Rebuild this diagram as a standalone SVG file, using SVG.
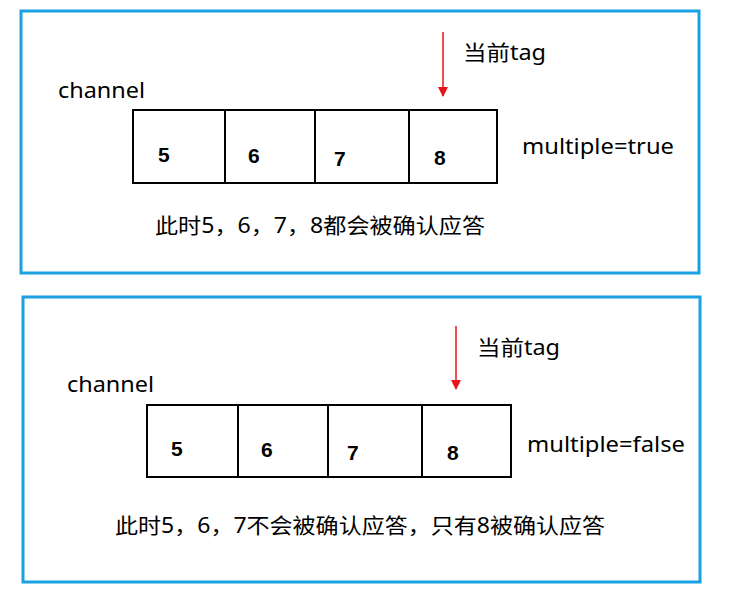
<svg xmlns="http://www.w3.org/2000/svg" width="741" height="592" viewBox="0 0 741 592">
<defs>
<style>
.frame{fill:none;stroke:#1ba1e2;stroke-width:3}
.cell{fill:#fff;stroke:#000;stroke-width:2}
.t{font-family:"Noto Sans","Noto Sans CJK SC",sans-serif;font-size:21px;fill:#000}
.n{font-family:"Liberation Sans",sans-serif;font-size:21px;font-weight:bold;fill:#000}
.arr{stroke:#e8141b;stroke-width:1.5}
</style>
<marker id="ah" markerWidth="10" markerHeight="10" refX="9" refY="5" orient="auto" markerUnits="userSpaceOnUse"><path d="M0,0 L10,5 L0,10 z" fill="#e8141b"/></marker>
</defs>
<rect width="741" height="592" fill="#fff"/>
<g id="panel1">
<rect class="frame" x="21" y="11" width="678" height="262"/>
<g id="cells1">
<rect class="cell" x="133" y="110" width="364" height="73"/>
<line x1="225" y1="110" x2="225" y2="183" stroke="#000" stroke-width="2"/>
<line x1="315" y1="110" x2="315" y2="183" stroke="#000" stroke-width="2"/>
<line x1="409" y1="110" x2="409" y2="183" stroke="#000" stroke-width="2"/>
<text class="n" x="158" y="162">5</text><text class="n" x="248" y="163">6</text><text class="n" x="334" y="166">7</text><text class="n" x="434" y="165">8</text>
</g>
<text class="t" x="463" y="60" textLength="83" lengthAdjust="spacingAndGlyphs">当前tag</text>
<text class="t" x="58" y="98" textLength="87" lengthAdjust="spacingAndGlyphs">channel</text>
<text class="t" x="522" y="154" textLength="152" lengthAdjust="spacingAndGlyphs">multiple=true</text>
<text class="t" x="155" y="233" textLength="330" lengthAdjust="spacingAndGlyphs">此时5，6，7，8都会被确认应答</text>
</g>
<g id="panel2">
<rect class="frame" x="23" y="297" width="677" height="285"/>
<g id="cells2">
<rect class="cell" x="147" y="405" width="364" height="72"/>
<line x1="238" y1="405" x2="238" y2="477" stroke="#000" stroke-width="2"/>
<line x1="328" y1="405" x2="328" y2="477" stroke="#000" stroke-width="2"/>
<line x1="422" y1="405" x2="422" y2="477" stroke="#000" stroke-width="2"/>
<text class="n" x="171" y="456">5</text><text class="n" x="261" y="457">6</text><text class="n" x="347" y="460">7</text><text class="n" x="447" y="460">8</text>
</g>
<text class="t" x="477" y="355" textLength="83" lengthAdjust="spacingAndGlyphs">当前tag</text>
<text class="t" x="67" y="392" textLength="87" lengthAdjust="spacingAndGlyphs">channel</text>
<text class="t" x="527" y="452" textLength="158" lengthAdjust="spacingAndGlyphs">multiple=false</text>
<text class="t" x="115" y="533" textLength="490" lengthAdjust="spacingAndGlyphs">此时5，6，7不会被确认应答，只有8被确认应答</text>
</g>
<g id="connectors">
<line class="arr" x1="443" y1="32" x2="443" y2="96" marker-end="url(#ah)"/>
<line class="arr" x1="456" y1="326" x2="456" y2="389" marker-end="url(#ah)"/>
</g>
</svg>
